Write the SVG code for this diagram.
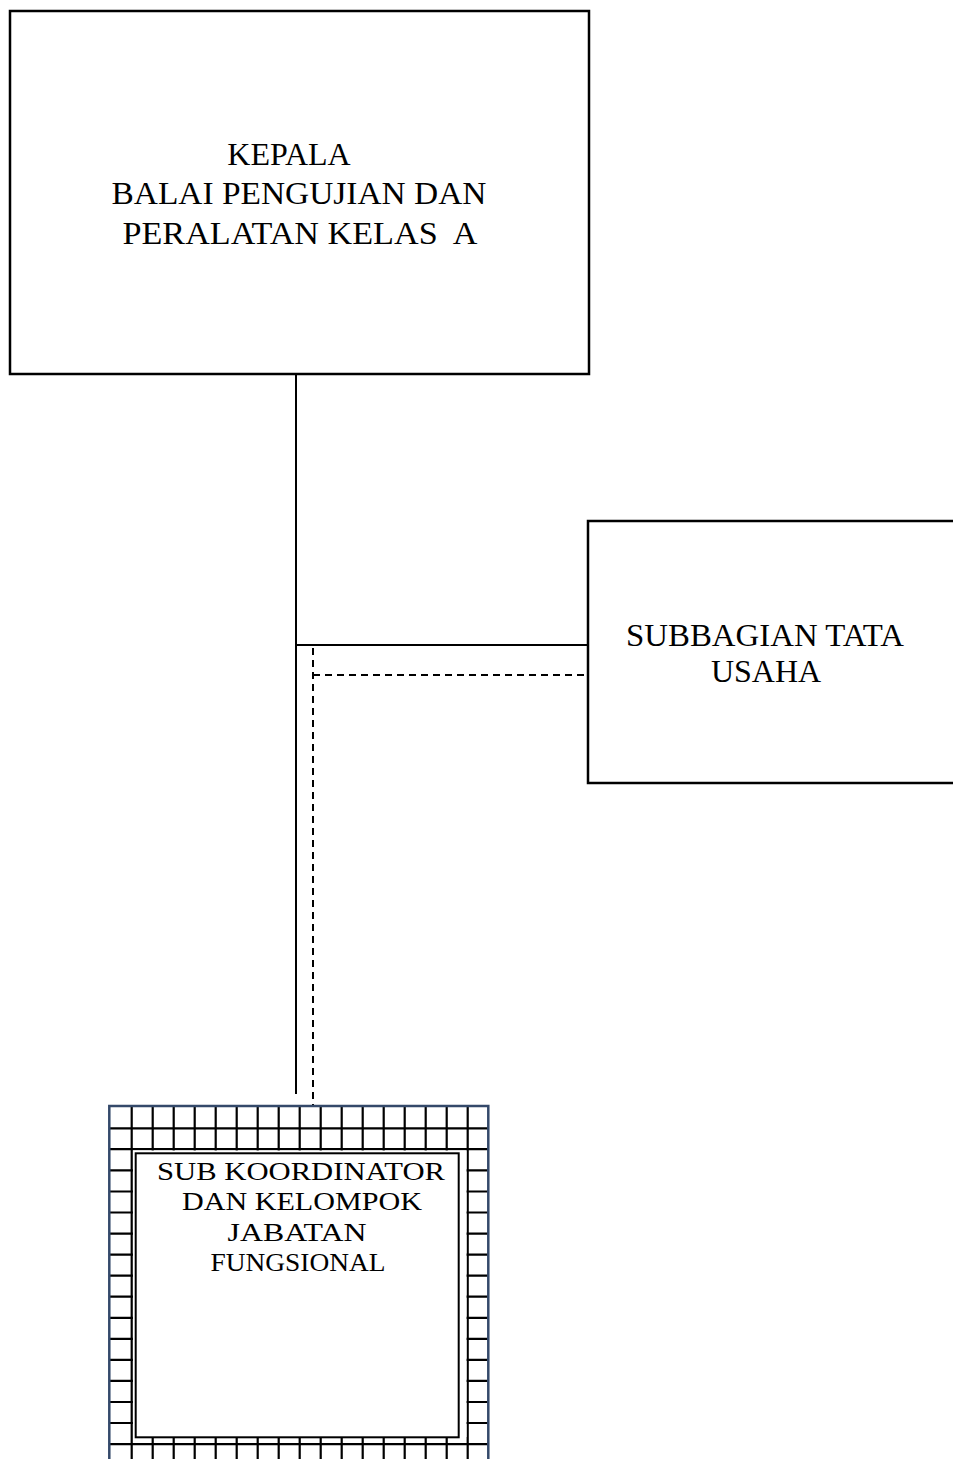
<svg xmlns="http://www.w3.org/2000/svg" width="953" height="1459" viewBox="0 0 953 1459">
  <style>
    .box { fill: #ffffff; stroke: #000000; stroke-width: 2.5; }
    .lbl { font-family: "Liberation Serif", "Times New Roman", serif; fill: #000000; text-anchor: middle; white-space: pre; }
    .big { font-size: 32px; }
    .small { font-size: 25px; }
    .solid { fill: none; stroke: #000000; stroke-width: 2; }
    .dash { fill: none; stroke: #000000; stroke-width: 2; stroke-dasharray: 7 5; }
    .grid { fill: none; stroke: #000000; stroke-width: 2.2; }
    .frame { fill: none; stroke: #34496a; stroke-width: 2.5; }
  </style>
  <rect x="0" y="0" width="953" height="1459" fill="#ffffff"/>

  <g id="connectors">
    <path class="solid" d="M296 374V1094"/>
    <path class="solid" d="M296 645H588"/>
    <path class="dash" d="M313 648V1106"/>
    <path class="dash" d="M313 675H588"/>
  </g>

  <g id="node-kepala">
    <rect class="box" x="10" y="11" width="579" height="363"/>
    <text class="lbl big" x="289" y="165">KEPALA</text>
    <text class="lbl big" x="299" y="204" textLength="375" lengthAdjust="spacingAndGlyphs">BALAI PENGUJIAN DAN</text>
    <text class="lbl big" x="300" y="244" textLength="355" lengthAdjust="spacingAndGlyphs">PERALATAN KELAS  A</text>
  </g>

  <g id="node-subbagian">
    <rect class="box" x="588" y="521" width="370" height="262"/>
    <text class="lbl big" x="765" y="646" textLength="278" lengthAdjust="spacingAndGlyphs">SUBBAGIAN TATA</text>
    <text class="lbl big" x="766" y="682">USAHA</text>
  </g>

  <g id="node-subkoordinator">
    <path class="grid" d="M131.7 1106V1459M152.7 1106V1459M173.7 1106V1459M194.7 1106V1459M215.7 1106V1459M236.7 1106V1459M257.7 1106V1459M278.7 1106V1459M299.7 1106V1459M320.7 1106V1459M341.7 1106V1459M362.7 1106V1459M383.7 1106V1459M404.7 1106V1459M425.7 1106V1459M446.7 1106V1459M467.7 1106V1459"/>
    <path class="grid" d="M109.3 1128.3H488.3M109.3 1149.2H488.3M109.3 1170.4H488.3M109.3 1191.5H488.3M109.3 1212.5H488.3M109.3 1233.6H488.3M109.3 1254.6H488.3M109.3 1275.7H488.3M109.3 1296.7H488.3M109.3 1317.8H488.3M109.3 1338.8H488.3M109.3 1359.9H488.3M109.3 1380.9H488.3M109.3 1402H488.3M109.3 1423H488.3M109.3 1444.1H488.3"/>
    <rect x="133" y="1150.5" width="333.5" height="286.5" fill="#ffffff"/>
    <rect x="135.7" y="1153.3" width="323" height="284" fill="#ffffff" stroke="#000000" stroke-width="2"/>
    <path class="frame" d="M109.3 1459V1106H488.3V1459"/>
    <text class="lbl small" x="301" y="1180" textLength="288" lengthAdjust="spacingAndGlyphs">SUB KOORDINATOR</text>
    <text class="lbl small" x="302" y="1210" textLength="240" lengthAdjust="spacingAndGlyphs">DAN KELOMPOK</text>
    <text class="lbl small" x="297" y="1241" textLength="139" lengthAdjust="spacingAndGlyphs">JABATAN</text>
    <text class="lbl small" x="298" y="1271" textLength="175" lengthAdjust="spacingAndGlyphs">FUNGSIONAL</text>
  </g>
</svg>
